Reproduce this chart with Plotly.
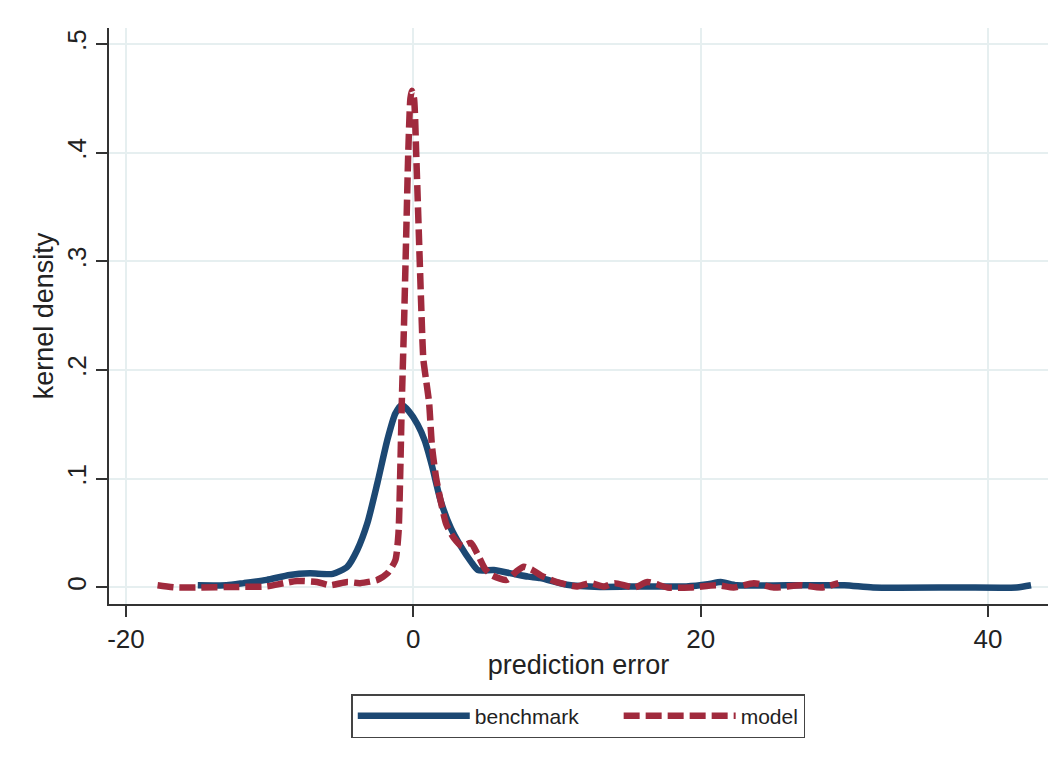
import plotly.graph_objects as go

# benchmark kernel density
bench_x = [-15, -13, -11.8, -10.2, -8.6, -7.2, -5.6, -4.6, -3.9, -3.2, -2.5, -1.8, -1.25, -0.8,
           -0.3, 0.3, 0.8, 1.3, 1.9, 2.6, 3.3, 4.0, 4.5, 5.6, 6.8, 8.0, 8.85, 10.7, 13.0,
           16, 19, 20.5, 21.4, 22.5, 26, 30, 32, 38, 42, 43]
bench_y = [0.002, 0.002, 0.004, 0.007, 0.0115, 0.013, 0.0125, 0.019, 0.0345, 0.059, 0.096, 0.136, 0.160, 0.168,
           0.162, 0.150, 0.135, 0.112, 0.080, 0.055, 0.038, 0.024, 0.016, 0.016, 0.013, 0.010, 0.0087, 0.0025, 0.0005,
           0.001, 0.001, 0.003, 0.005, 0.002, 0.002, 0.002, 0.000, 0.000, 0.000, 0.002]

# model kernel density
model_x = [-17.8, -16.5, -14.8, -12.5, -10.2, -9.0, -8.1, -6.7, -5.8, -4.6, -3.7, -2.5, -1.8, -1.25,
           -1.03, -0.9, -0.8, -0.65, -0.5, -0.35, -0.2, -0.1, 0.05, 0.2, 0.4, 0.55, 0.7, 0.9, 1.1,
           1.3, 1.6, 1.9, 2.3, 2.8, 3.4, 4.0, 4.5, 5.0, 5.5, 6.5, 7.2, 7.7, 8.3, 8.9, 10.0, 11.4,
           12.3, 13.3, 14.0, 15.4, 16.3, 17.7, 19.3, 21.2, 22.3, 23.7, 25.1, 27.0, 28.4, 29.6]
model_y = [0.002, 0.0, 0.0, 0.0005, 0.001, 0.004, 0.006, 0.005, 0.002, 0.005, 0.004, 0.007, 0.013, 0.025,
           0.05, 0.11, 0.17, 0.24, 0.32, 0.40, 0.45, 0.457, 0.45, 0.40, 0.32, 0.26, 0.21, 0.19, 0.17,
           0.13, 0.10, 0.08, 0.058, 0.046, 0.038, 0.041, 0.030, 0.017, 0.011, 0.007, 0.015, 0.019, 0.016, 0.011, 0.005, 0.001,
           0.004, 0.001, 0.004, 0.000, 0.005, 0.0, 0.0, 0.002, 0.0, 0.004, 0.0, 0.002, 0.0, 0.004]

series_names = ["benchmark", "model"]
x_ticks = [-20, 0, 20, 40]
x_labels = ["-20", "0", "20", "40"]
y_ticks = [0, 0.1, 0.2, 0.3, 0.4, 0.5]
y_labels = ["0", ".1", ".2", ".3", ".4", ".5"]

FONT = "Liberation Sans, Arial, sans-serif"
BLUE = "#1c4873"
RED = "#a02a3d"
PAD = "\u00a0" * 6  # spacing between legend entries

fig = go.Figure()
fig.add_trace(go.Scatter(x=bench_x, y=bench_y, mode="lines", name=series_names[0] + PAD,
                         line=dict(color=BLUE, width=6.5, shape="spline", smoothing=0.6)))
fig.add_trace(go.Scatter(x=model_x, y=model_y, mode="lines", name=series_names[1],
                         line=dict(color=RED, width=6.5, dash="16px,6px", shape="spline", smoothing=0.6)))

axis_common = dict(showline=True, linecolor="#333333", linewidth=1.5, ticks="outside",
                   ticklen=11, tickwidth=1.5, tickcolor="#333333", showgrid=True,
                   gridcolor="#e6eff0", gridwidth=2, zeroline=False,
                   tickfont=dict(family=FONT, size=26, color="#222222"),
                   title_font=dict(family=FONT, size=27, color="#222222"))

fig.update_xaxes(range=[-21.18, 44.18], tickvals=x_ticks, ticktext=x_labels,
                 title_text="prediction error", title_standoff=2, **axis_common)
fig.update_yaxes(range=[-0.0152, 0.5147], tickvals=y_ticks, ticktext=y_labels, tickangle=-90,
                 title_text="kernel density", title_standoff=0, **axis_common)

fig.update_layout(
    width=1063, height=766,
    margin=dict(l=109, r=15, t=28, b=162),
    paper_bgcolor="white", plot_bgcolor="white",
    showlegend=True,
    legend=dict(orientation="h", xref="container", yref="container",
                x=0.544, xanchor="center", y=1 - 694 / 766, yanchor="top",
                bordercolor="#444444", borderwidth=1.5,
                font=dict(family=FONT, size=21, color="#222222"),
                itemwidth=112),
)

fig.write_html("out.html")
